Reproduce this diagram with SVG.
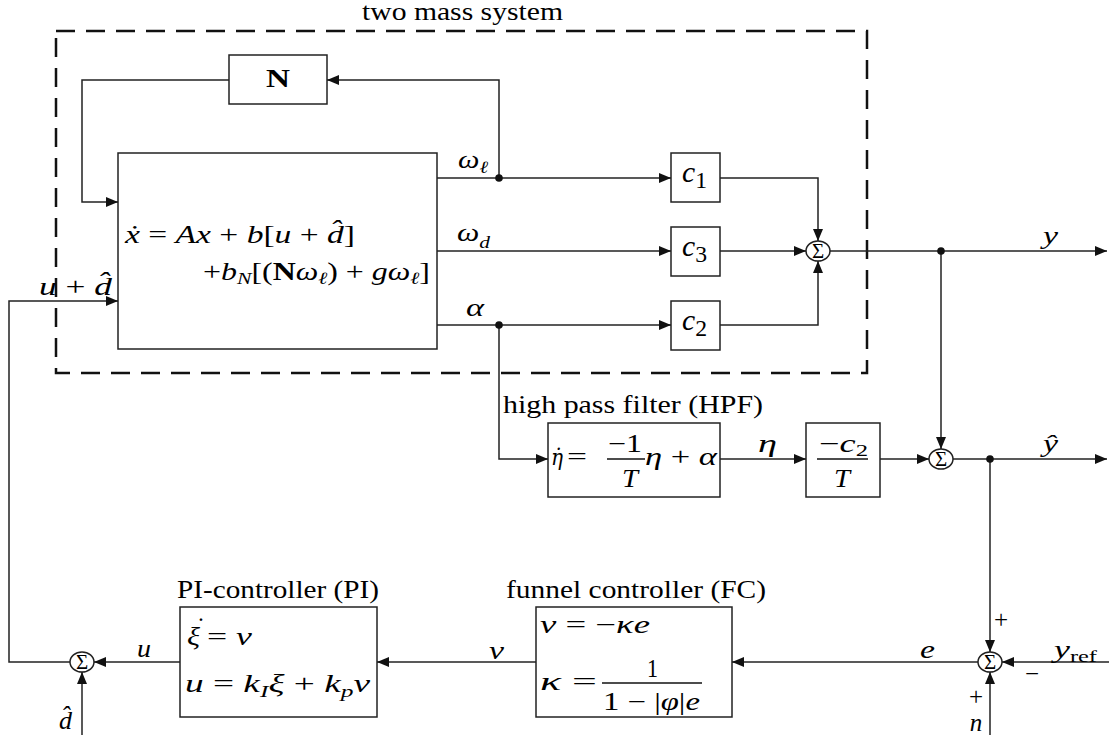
<svg xmlns="http://www.w3.org/2000/svg" width="1109" height="741" viewBox="0 0 1109 741">
<style>
text{font-family:"Liberation Serif","DejaVu Serif",serif;font-size:25px;fill:#000}
.m{font-style:italic}
.u{font-style:normal}
.b{font-weight:bold;font-style:normal}
.s{font-size:17px}
.dv{font-family:"DejaVu Serif",serif;font-size:22px}
.sg{font-size:21px;font-style:normal}
.box{fill:none;stroke:#222;stroke-width:1.5}
.sum{fill:#fff;stroke:#222;stroke-width:1.5}
.bar{stroke:#111;stroke-width:1.6}
#connectors path{fill:none;stroke:#222;stroke-width:1.5;marker-end:url(#ah)}
.dot{fill:#111}
</style>
<defs>
<marker id="ah" viewBox="0 0 12 10" refX="12" refY="5" markerWidth="12" markerHeight="10" markerUnits="userSpaceOnUse" orient="auto"><path d="M0,0 L12,5 L0,10 z" fill="#111"/></marker>
</defs>
<rect width="1109" height="741" fill="#fff"/>

<g id="two-mass-system">
<rect x="56" y="31" width="811" height="342" fill="none" stroke="#111" stroke-width="2.5" stroke-dasharray="19 11"/>
<text x="362" y="20" textLength="201" lengthAdjust="spacingAndGlyphs">two mass system</text>
</g>

<g id="N-block">
<rect class="box" x="229" y="55" width="98" height="49"/>
<text class="b" x="266" y="87" font-size="27" textLength="24" lengthAdjust="spacingAndGlyphs">N</text>
</g>

<g id="plant">
<rect class="box" x="118" y="153" width="319" height="196"/>
<text class="m" x="125" y="243" textLength="230" lengthAdjust="spacingAndGlyphs">ẋ<tspan class="u"> =  </tspan>Ax<tspan class="u"> + </tspan>b<tspan class="u">[</tspan>u<tspan class="u"> + </tspan>d̂<tspan class="u">]</tspan></text>
<text class="m" x="203" y="280" textLength="227" lengthAdjust="spacingAndGlyphs"><tspan class="u">+</tspan>b<tspan class="s" dy="4">N</tspan><tspan class="u" dy="-4">[(</tspan><tspan class="b">N</tspan>ω<tspan class="s" dy="4">ℓ</tspan><tspan class="u" dy="-4">) + </tspan>gω<tspan class="s" dy="4">ℓ</tspan><tspan class="u" dy="-4">]</tspan></text>
</g>

<g id="c1">
<rect class="box" x="671" y="153" width="49" height="49"/>
<text x="682" y="182" textLength="25" lengthAdjust="spacingAndGlyphs"><tspan class="m" font-size="30">c</tspan><tspan font-size="24" dy="6">1</tspan></text>
</g>
<g id="c3">
<rect class="box" x="671" y="227" width="49" height="49"/>
<text x="682" y="256" textLength="25" lengthAdjust="spacingAndGlyphs"><tspan class="m" font-size="30">c</tspan><tspan font-size="24" dy="6">3</tspan></text>
</g>
<g id="c2">
<rect class="box" x="671" y="301" width="49" height="49"/>
<text x="682" y="330" textLength="25" lengthAdjust="spacingAndGlyphs"><tspan class="m" font-size="30">c</tspan><tspan font-size="24" dy="6">2</tspan></text>
</g>

<g id="sum-y">
<ellipse class="sum" cx="818" cy="251" rx="12" ry="10"/>
<text class="sg" x="818" y="258" text-anchor="middle">Σ</text>
</g>

<g id="hpf">
<text x="503" y="413" textLength="260" lengthAdjust="spacingAndGlyphs">high pass filter (HPF)</text>
<rect class="box" x="548" y="423" width="172" height="74"/>
<text class="m dv" x="551" y="465" textLength="12" lengthAdjust="spacingAndGlyphs">η̇</text>
<text class="u" x="567" y="465" textLength="20" lengthAdjust="spacingAndGlyphs">=</text>
<text class="u" x="608" y="452" textLength="34" lengthAdjust="spacingAndGlyphs">−1</text>
<line class="bar" x1="607" y1="459" x2="645" y2="459"/>
<text class="m" x="622" y="487" textLength="16" lengthAdjust="spacingAndGlyphs">T</text>
<text class="m" x="645" y="465" textLength="72" lengthAdjust="spacingAndGlyphs">η<tspan class="u"> + </tspan>α</text>
</g>

<g id="gain-c2T">
<rect class="box" x="806" y="423" width="74" height="74"/>
<text x="819" y="452" textLength="49" lengthAdjust="spacingAndGlyphs">−<tspan class="m">c</tspan><tspan class="s" dy="4">2</tspan></text>
<line class="bar" x1="817" y1="459" x2="868" y2="459"/>
<text class="m" x="834" y="487" textLength="16" lengthAdjust="spacingAndGlyphs">T</text>
</g>

<g id="sum-yhat">
<ellipse class="sum" cx="941" cy="459" rx="12" ry="10"/>
<text class="sg" x="941" y="466" text-anchor="middle">Σ</text>
</g>

<g id="sum-e">
<ellipse class="sum" cx="990" cy="662" rx="12" ry="10"/>
<text class="sg" x="990" y="669" text-anchor="middle">Σ</text>
<text class="u" x="1001" y="628" text-anchor="middle">+</text>
<text class="u" x="1032" y="682" text-anchor="middle">−</text>
<text class="u" x="976" y="705" text-anchor="middle">+</text>
</g>

<g id="funnel-controller">
<text x="506" y="598" textLength="260" lengthAdjust="spacingAndGlyphs">funnel controller (FC)</text>
<rect class="box" x="536" y="607" width="196" height="110"/>
<text class="m" x="540" y="633" textLength="110" lengthAdjust="spacingAndGlyphs">v<tspan class="u"> = −</tspan>κe</text>
<text class="m" x="540" y="690" textLength="57" lengthAdjust="spacingAndGlyphs">κ<tspan class="u"> =</tspan></text>
<text class="u" x="647" y="677" textLength="11" lengthAdjust="spacingAndGlyphs">1</text>
<line class="bar" x1="602" y1="683" x2="702" y2="683"/>
<text class="u" x="603" y="710" textLength="97" lengthAdjust="spacingAndGlyphs">1 − |<tspan class="m">φ</tspan>|<tspan class="m">e</tspan></text>
</g>

<g id="pi-controller">
<text x="177" y="598" textLength="202" lengthAdjust="spacingAndGlyphs">PI-controller (PI)</text>
<rect class="box" x="180" y="607" width="197" height="110"/>
<text class="m" x="187" y="645" textLength="13" lengthAdjust="spacingAndGlyphs">ξ</text>
<text class="u" x="201" y="635" text-anchor="middle">˙</text>
<text class="m" x="207" y="645" textLength="45" lengthAdjust="spacingAndGlyphs"><tspan class="u">= </tspan>v</text>
<text class="m" x="185" y="692" textLength="185" lengthAdjust="spacingAndGlyphs">u<tspan class="u"> = </tspan>k<tspan class="s" dy="5">I</tspan><tspan dy="-5">ξ</tspan><tspan class="u"> + </tspan>k<tspan class="s" dy="5">p</tspan><tspan dy="-5">v</tspan></text>
</g>

<g id="sum-u">
<ellipse class="sum" cx="82" cy="662" rx="12" ry="10"/>
<text class="sg" x="82" y="669" text-anchor="middle">Σ</text>
</g>

<g id="connectors">
<path d="M499,178 V80 H327"/>
<path d="M229,80 H82 V202 H118"/>
<path d="M437,178 H671"/>
<path d="M437,251 H671"/>
<path d="M437,325 H671"/>
<path d="M720,178 H818 V241"/>
<path d="M720,251 H806"/>
<path d="M720,325 H818 V261"/>
<path d="M830,251 H1107"/>
<path d="M941,251 V449"/>
<path d="M499,325 V459 H548"/>
<path d="M720,459 H806"/>
<path d="M880,459 H929"/>
<path d="M953,459 H1107"/>
<path d="M990,459 V652"/>
<path d="M1109,662 H1002"/>
<path d="M990,735 V672"/>
<path d="M978,662 H732"/>
<path d="M536,662 H377"/>
<path d="M180,662 H94"/>
<path d="M70,662 H9 V301 H118"/>
<path d="M82,735 V672"/>
<circle class="dot" cx="499" cy="178" r="3.8"/>
<circle class="dot" cx="499" cy="325" r="3.8"/>
<circle class="dot" cx="941" cy="251" r="3.8"/>
<circle class="dot" cx="990" cy="459" r="3.8"/>
</g>

<g id="signal-labels">
<text class="m" x="458" y="168" textLength="30" lengthAdjust="spacingAndGlyphs">ω<tspan class="s" dy="5">ℓ</tspan></text>
<text class="m" x="457" y="241" textLength="33" lengthAdjust="spacingAndGlyphs">ω<tspan class="s" dy="7">d</tspan></text>
<text class="m" x="466" y="316" textLength="18" lengthAdjust="spacingAndGlyphs">α</text>
<text class="m" x="39" y="295" textLength="73" lengthAdjust="spacingAndGlyphs">u<tspan class="u"> + </tspan>d̂</text>
<text class="m" x="1043" y="244" textLength="15" lengthAdjust="spacingAndGlyphs">y</text>
<text class="m" x="758" y="452" textLength="19" lengthAdjust="spacingAndGlyphs">η</text>
<text class="m" x="1043" y="452" textLength="15" lengthAdjust="spacingAndGlyphs">ŷ</text>
<text class="m" x="1054" y="658" textLength="43" lengthAdjust="spacingAndGlyphs">y<tspan class="u s" dy="4">ref</tspan></text>
<text class="m" x="920" y="658" textLength="15" lengthAdjust="spacingAndGlyphs">e</text>
<text class="m" x="489" y="659" textLength="15" lengthAdjust="spacingAndGlyphs">v</text>
<text class="m" x="137" y="657" textLength="14" lengthAdjust="spacingAndGlyphs">u</text>
<text class="m" x="59" y="729" textLength="13" lengthAdjust="spacingAndGlyphs">d̂</text>
<text class="m" x="976" y="731" text-anchor="middle">n</text>
</g>
</svg>
